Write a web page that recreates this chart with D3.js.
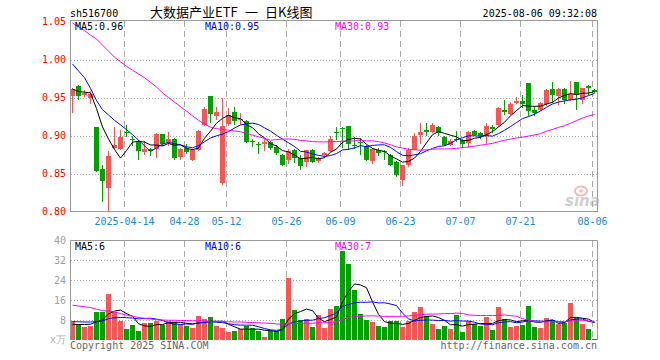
<!DOCTYPE html>
<html><head><meta charset="utf-8">
<script src="https://cdn.jsdelivr.net/npm/d3@7"></script>
<style>body{margin:0;background:#fff}svg{display:block}</style>
</head><body><svg id="c" width="660" height="360"></svg>
<script>
const code = "sh516700";
const titleParts = ["大数据产业ETF", "一", "日K线图"];
const stamp = "2025-08-06 09:32:08";
const dates = ["03-31","04-01","04-02","04-03","04-07","04-08","04-09","04-10","04-11",
"04-14","04-15","04-16","04-17","04-18","04-21","04-22","04-23","04-24","04-25",
"04-28","04-29","04-30","05-06","05-07","05-08","05-09",
"05-12","05-13","05-14","05-15","05-16","05-19","05-20","05-21","05-22","05-23",
"05-26","05-27","05-28","05-29","05-30","06-03","06-04","06-05","06-06",
"06-09","06-10","06-11","06-12","06-13","06-16","06-17","06-18","06-19","06-20",
"06-23","06-24","06-25","06-26","06-27","06-30","07-01","07-02","07-03","07-04",
"07-07","07-08","07-09","07-10","07-11","07-14","07-15","07-16","07-17","07-18",
"07-21","07-22","07-23","07-24","07-25","07-28","07-29","07-30","07-31","08-01",
"08-04","08-05","08-06"];
const open = [0.952,0.965,0.953,0.949,0.911,0.856,0.831,0.884,0.882,0.905,0.896,0.892,0.878,0.882,0.882,0.902,0.891,0.895,0.872,0.884,0.868,0.881,0.914,0.952,0.926,0.838,0.915,0.931,0.920,0.919,0.893,0.889,0.889,0.891,0.885,0.875,0.868,0.881,0.871,0.865,0.881,0.867,0.874,0.880,0.904,0.910,0.912,0.887,0.892,0.885,0.867,0.881,0.879,0.874,0.865,0.842,0.861,0.881,0.901,0.907,0.905,0.911,0.898,0.887,0.896,0.894,0.890,0.906,0.903,0.899,0.911,0.914,0.934,0.928,0.943,0.946,0.969,0.933,0.933,0.941,0.961,0.952,0.961,0.947,0.970,0.947,0.965,0.960];
const high = [0.962,0.966,0.960,0.958,0.911,0.861,0.880,0.911,0.907,0.914,0.900,0.894,0.893,0.884,0.903,0.902,0.905,0.897,0.884,0.889,0.882,0.907,0.937,0.952,0.937,0.950,0.936,0.938,0.929,0.921,0.896,0.892,0.896,0.893,0.887,0.876,0.882,0.882,0.874,0.881,0.882,0.872,0.878,0.900,0.911,0.911,0.912,0.898,0.897,0.887,0.884,0.883,0.881,0.876,0.866,0.861,0.883,0.903,0.917,0.917,0.917,0.912,0.899,0.896,0.906,0.895,0.906,0.907,0.905,0.916,0.914,0.937,0.947,0.944,0.951,0.953,0.969,0.939,0.944,0.961,0.971,0.962,0.962,0.972,0.970,0.963,0.966,0.961];
const low = [0.930,0.947,0.951,0.942,0.852,0.812,0.801,0.882,0.881,0.898,0.886,0.868,0.875,0.873,0.871,0.886,0.886,0.868,0.868,0.876,0.866,0.879,0.912,0.916,0.921,0.835,0.913,0.914,0.914,0.890,0.885,0.876,0.879,0.881,0.875,0.860,0.862,0.864,0.855,0.859,0.864,0.864,0.870,0.878,0.894,0.884,0.881,0.882,0.874,0.867,0.863,0.873,0.868,0.860,0.846,0.834,0.859,0.881,0.889,0.900,0.903,0.900,0.886,0.886,0.892,0.883,0.884,0.899,0.896,0.889,0.903,0.911,0.927,0.927,0.941,0.936,0.926,0.926,0.932,0.939,0.943,0.940,0.942,0.946,0.934,0.942,0.953,0.956];
const close = [0.961,0.952,0.956,0.955,0.853,0.840,0.873,0.887,0.898,0.903,0.895,0.879,0.882,0.879,0.902,0.889,0.896,0.870,0.882,0.878,0.881,0.906,0.935,0.928,0.931,0.912,0.927,0.919,0.922,0.892,0.891,0.888,0.891,0.884,0.877,0.861,0.879,0.870,0.860,0.881,0.865,0.871,0.877,0.895,0.903,0.909,0.889,0.886,0.890,0.868,0.882,0.877,0.878,0.861,0.848,0.861,0.881,0.900,0.905,0.905,0.914,0.903,0.887,0.893,0.894,0.889,0.905,0.901,0.899,0.912,0.909,0.936,0.931,0.942,0.946,0.942,0.932,0.930,0.943,0.960,0.953,0.961,0.947,0.955,0.953,0.962,0.962,0.957];
const volume = [7.7,6.6,5.3,5.7,11.3,11.3,18.4,11.2,7.6,4.3,6.0,3.6,6.7,6.7,7.8,6.0,7.8,7.4,6.3,5.8,4.9,9.6,8.3,9.1,5.6,4.9,3.3,3.6,4.3,5.6,4.7,3.6,1.3,3.7,3.6,8.4,24.9,12.0,8.0,8.5,5.3,9.9,4.9,12.4,13.6,35.6,30.5,20.0,10.4,8.1,7.2,5.8,5.2,7.5,7.5,5.3,7.6,11.3,13.2,9.6,6.4,4.5,5.6,4.4,10.0,3.2,7.7,6.5,5.7,9.3,4.0,13.1,8.5,5.3,5.7,6.0,13.6,5.3,4.7,8.7,8.0,6.4,6.9,14.9,9.0,6.3,4.6,0.6];
// moving-average values before enough history is on screen
const ma5Head = [0.961,0.958,0.957,0.956];
const ma10Head = [0.994,0.985,0.976,0.962,0.946,0.934,0.927,0.920,0.914];
const ma30Head = [1.048,1.043,1.038,1.032,1.027,1.019,1.011,1.003,0.997,0.991,0.986,0.981,0.976,0.970,0.964,0.956,0.950,0.944,0.938,0.932,0.926,0.920,0.915,0.911,0.909,0.908,0.907,0.906,0.905];
const vma5Head = [6.2,6.2,6.2,6.3];
const vma10Head = [7.3,7.3,7.2,7.2,7.3,7.6,8.5,8.9,9.0];
const vma30Head = [13.9,13.6,13.3,13.0,12.3,11.8,11.5,11.2,10.6,10.0,9.5,9.0,8.7,8.4,8.1,8.0,7.9,7.9,7.8,7.8,7.7,7.7,7.6,7.5,7.4,7.3,7.3,7.2,7.2];
const priceTicks = [0.80,0.85,0.90,0.95,1.00,1.05];
const volTicks = [8,16,24,32,40];
const dateTicks = ["04-14","04-28","05-12","05-26","06-09","06-23","07-07","07-21","08-06"];
const dateTickLabels = ["2025-04-14","04-28","05-12","05-26","06-09","06-23","07-07","07-21","08-06"];
const priceMALabels = ["MA5:0.96","MA10:0.95","MA30:0.93"];
const volMALabels = ["MA5:6","MA10:6","MA30:7"];
const maColors = ["#000000","#0000ff","#ff00ff"];

const UP = "#fa5555", DOWN = "#02a102", FRAME = "#999999", GRID = "#aaaaaa";
const MONO = "DejaVu Sans Mono, monospace";
const n = dates.length;
function movingAvg(arr, k, head){
  return arr.map((_, i) => i < k - 1 ? head[i] : d3.mean(arr.slice(i - k + 1, i + 1)));
}
const svg = d3.select("#c");
const x = d3.scaleBand().domain(d3.range(n)).range([70, 597]).paddingInner(1/6).paddingOuter(0).align(0);
const yP = d3.scaleLinear().domain([0.80, 1.05]).range([211.5, 21.5]);
const yV = d3.scaleLinear().domain([0, 40]).range([340, 240]);
const cx = i => x(i) + 2.5;

// header
svg.append("text").attr("x", 70).attr("y", 16.5).attr("font-family", MONO).attr("font-size", 10).attr("fill", "#000").text(code);
const tt = svg.append("text").attr("y", 16.5).attr("font-family", "Noto Sans CJK SC, sans-serif").attr("font-size", 13).attr("fill", "#000");
[150, 245, 265].forEach((px, k) => tt.append("tspan").attr("x", px).text(titleParts[k]));
svg.append("text").attr("x", 597).attr("y", 16.5).attr("text-anchor", "end").attr("font-family", MONO).attr("font-size", 10).attr("fill", "#000").text(stamp);

// clip paths
const defs = svg.append("defs");
defs.append("clipPath").attr("id", "cp").append("rect").attr("x", 71).attr("y", 21).attr("width", 526).attr("height", 190);
defs.append("clipPath").attr("id", "cv").append("rect").attr("x", 71).attr("y", 241).attr("width", 526).attr("height", 99);

// grid: horizontal dotted
const gP = svg.append("g");
gP.selectAll("line.h").data(priceTicks.filter(t => t > 0.801 && t < 1.049)).join("line")
  .attr("x1", 71).attr("x2", 597).attr("y1", d => Math.round(yP(d)) + 0.5).attr("y2", d => Math.round(yP(d)) + 0.5)
  .attr("stroke", GRID).attr("stroke-dasharray", "1,2");
gP.selectAll("line.hv").data(volTicks.filter(t => t < 40)).join("line")
  .attr("x1", 71).attr("x2", 597).attr("y1", d => Math.round(yV(d)) + 0.5).attr("y2", d => Math.round(yV(d)) + 0.5)
  .attr("stroke", GRID).attr("stroke-dasharray", "1,2");
// grid: vertical dashed at date ticks
const tickIdx = dateTicks.map(d => dates.indexOf(d));
tickIdx.forEach(i => {
  svg.append("line").attr("x1", x(i) + 0.5).attr("x2", x(i) + 0.5).attr("y1", 21).attr("y2", 211)
    .attr("stroke", GRID).attr("stroke-dasharray", "6,4");
  svg.append("line").attr("x1", x(i) + 0.5).attr("x2", x(i) + 0.5).attr("y1", 241).attr("y2", 340)
    .attr("stroke", GRID).attr("stroke-dasharray", "6,4");
});

// frames
svg.append("rect").attr("x", 70.5).attr("y", 20.5).attr("width", 527).attr("height", 191).attr("fill", "none").attr("stroke", FRAME);
svg.append("path").attr("d", "M70.5,340V240.5H597.5V340").attr("fill", "none").attr("stroke", FRAME);

// axis labels
svg.selectAll("text.pt").data(priceTicks).join("text")
  .attr("x", 66).attr("y", d => yP(d) + 3.5).attr("text-anchor", "end")
  .attr("font-family", MONO).attr("font-size", 10).attr("fill", "#ff0000").text(d => d.toFixed(2));
svg.selectAll("text.vt").data(volTicks).join("text")
  .attr("x", 66).attr("y", d => yV(d) + 3.5).attr("text-anchor", "end")
  .attr("font-family", MONO).attr("font-size", 10).attr("fill", "#a0a0a0").text(d => d);
svg.append("text").attr("x", 66).attr("y", 343).attr("text-anchor", "end").attr("font-family", MONO)
  .attr("font-size", 10).attr("fill", "#b0b0b0").text("x万");
svg.selectAll("text.dt").data(tickIdx).join("text")
  .attr("x", (d) => x(d) + 0.5).attr("y", 225).attr("text-anchor", "middle")
  .attr("font-family", MONO).attr("font-size", 10).attr("fill", "#1a88d8").text((d, k) => dateTickLabels[k]);

// watermark
const wm = svg.append("g").attr("opacity", 0.55);
wm.append("ellipse").attr("cx", 581).attr("cy", 191).attr("rx", 6).attr("ry", 4.5).attr("fill", "none").attr("stroke", "#f08080").attr("stroke-width", 2);
wm.append("circle").attr("cx", 581).attr("cy", 191).attr("r", 1.8).attr("fill", "#f08080");
wm.append("text").attr("x", 565).attr("y", 206).attr("font-family", "DejaVu Sans, sans-serif").attr("font-style", "italic")
  .attr("font-weight", "bold").attr("font-size", 15).attr("fill", "#a8a8a8").text("sina");

// candles
const idx = d3.range(n);
const up = i => close[i] >= open[i];
const gc = svg.append("g").attr("clip-path", "url(#cp)").attr("shape-rendering", "crispEdges");
gc.selectAll("rect.w").data(idx).join("rect")
  .attr("x", i => x(i) + 2).attr("width", 1)
  .attr("y", i => yP(high[i])).attr("height", i => Math.max(1, yP(low[i]) - yP(high[i])))
  .attr("fill", i => up(i) ? UP : DOWN);
gc.selectAll("rect.b").data(idx).join("rect")
  .attr("x", i => x(i)).attr("width", x.bandwidth())
  .attr("y", i => yP(Math.max(open[i], close[i])))
  .attr("height", i => Math.max(1, yP(Math.min(open[i], close[i])) - yP(Math.max(open[i], close[i]))))
  .attr("fill", i => up(i) ? UP : DOWN);

// volume bars
const gv = svg.append("g").attr("clip-path", "url(#cv)").attr("shape-rendering", "crispEdges");
gv.selectAll("rect").data(idx).join("rect")
  .attr("x", i => x(i)).attr("width", x.bandwidth())
  .attr("y", i => yV(volume[i])).attr("height", i => 340 - yV(volume[i]))
  .attr("fill", i => up(i) ? UP : DOWN);

// moving averages
const pMA = [movingAvg(close, 5, ma5Head), movingAvg(close, 10, ma10Head), movingAvg(close, 30, ma30Head)];
const vMA = [movingAvg(volume, 5, vma5Head), movingAvg(volume, 10, vma10Head), movingAvg(volume, 30, vma30Head)];
const gl = svg.append("g").attr("clip-path", "url(#cp)");
pMA.forEach((arr, k) => {
  gl.append("path").attr("d", d3.line().x((d, i) => cx(i)).y(d => yP(d))(arr))
    .attr("fill", "none").attr("stroke", maColors[k]).attr("stroke-width", 1);
});
const glv = svg.append("g").attr("clip-path", "url(#cv)");
vMA.forEach((arr, k) => {
  glv.append("path").attr("d", d3.line().x((d, i) => cx(i)).y(d => yV(d))(arr))
    .attr("fill", "none").attr("stroke", maColors[k]).attr("stroke-width", 1);
});

// MA legends
[75, 205, 335].forEach((px, k) => {
  svg.append("text").attr("x", px).attr("y", 30).attr("font-family", MONO).attr("font-size", 10).attr("fill", maColors[k]).text(priceMALabels[k]);
  svg.append("text").attr("x", px).attr("y", 250).attr("font-family", MONO).attr("font-size", 10).attr("fill", maColors[k]).text(volMALabels[k]);
});

// footer
svg.append("text").attr("x", 70).attr("y", 349).attr("font-family", MONO).attr("font-size", 10).attr("fill", "#666").text("Copyright 2025 SINA.COM");
svg.append("text").attr("x", 597).attr("y", 349).attr("text-anchor", "end").attr("font-family", MONO).attr("font-size", 10).attr("fill", "#666").text("http://finance.sina.com.cn");
</script></body></html>
